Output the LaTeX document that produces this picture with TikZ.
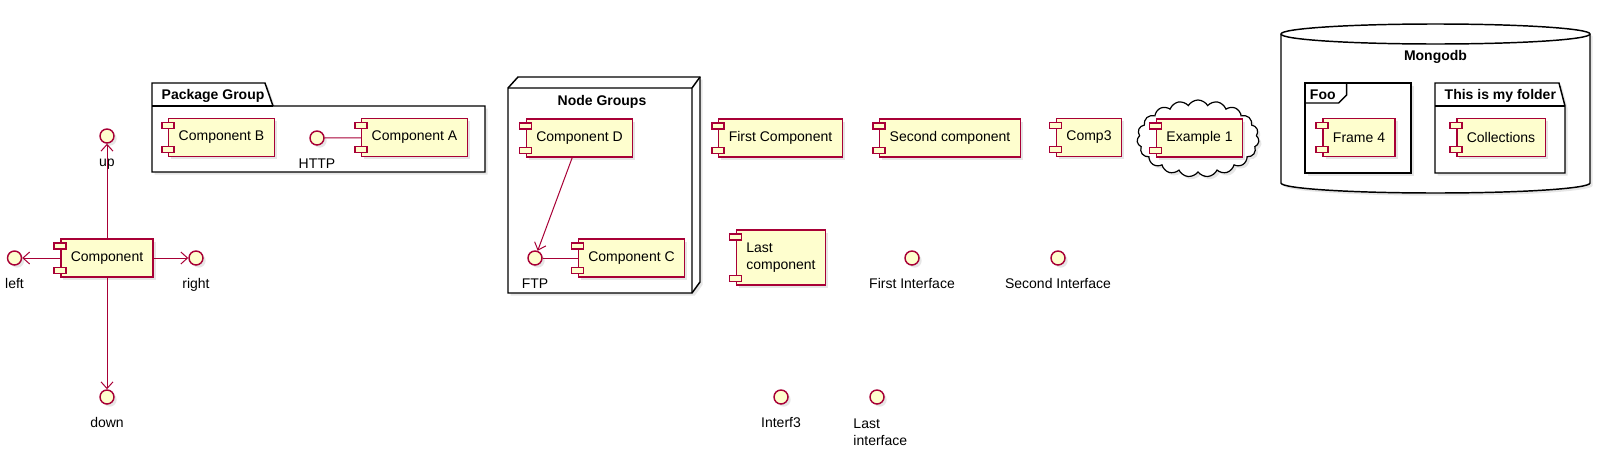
\documentclass[tikz,border=0pt]{standalone}
\usepackage{fontspec}
\setmainfont{Liberation Sans}
\usetikzlibrary{calc,arrows.meta,shapes.symbols,shadows}
\definecolor{umlfill}{HTML}{FEFECE}
\definecolor{umlred}{HTML}{A80036}

\tikzset{
  every node/.style={font=\fontsize{10.5}{12.75}\selectfont},
  softshadow/.style={drop shadow={opacity=0.2,shadow xshift=2pt,shadow yshift=-2pt}},
  comp/.style={draw=umlred,fill=umlfill,line width=1.1pt,minimum height=28.5pt,
    inner xsep=7.5pt,softshadow},
  plug/.style={draw=umlred,fill=umlfill,line width=1.1pt},
  iface/.style={circle,draw=umlred,fill=umlfill,line width=1.1pt,minimum size=10.5pt,
    inner sep=0pt,softshadow},
  lbl/.style={anchor=base,label distance=17.4pt},
  lbltwo/.style={anchor=north,align=left,inner sep=0pt,label distance=10.7pt,xshift=2.5pt},
  grp/.style={draw=black,fill=white,line width=1.1pt},
  edge/.style={draw=black,line width=1.1pt},
  title/.style={font=\fontsize{10.5}{12.75}\selectfont\bfseries},
  link/.style={draw=umlred,line width=0.75pt},
  arr/.style={link,-{Straight Barb[length=5pt,width=9pt]}},
}

\begin{document}
\begin{tikzpicture}[x=0.75pt,y=-0.75pt]
  \useasboundingbox (0,0) rectangle (1600,457);

  % package, node, database, frame, folder, cloud
  \draw[grp,softshadow] (152,83) -- (265,83) -- (273,106) -- (485,106) -- (485,172) -- (152,172) -- cycle;
  \draw[edge] (152,106) -- (273,106);
  \node[title,anchor=base west] (pkgT) at (157,99) {Package Group};

  \draw[grp,softshadow] (508,88) -- (518,77) -- (700,77) -- (700,282) -- (692,293) -- (508,293) -- cycle;
  \draw[edge] (508,88) -- (692,88) -- (700,77) (692,88) -- (692,293);
  \node[title,anchor=base] (nodeT) at (602,105) {Node Groups};

  \draw[grp,softshadow] (1281,34) -- (1281,183)
    arc[start angle=180,end angle=0,x radius=154.5,y radius=10] -- (1590,34)
    arc[start angle=0,end angle=-180,x radius=154.5,y radius=10] -- cycle;
  \draw[edge] (1281,34) arc[start angle=180,end angle=0,x radius=154.5,y radius=10];
  \node[title,anchor=base] (dbT) at (1435.5,60) {Mongodb};

  \draw[grp,softshadow] (1305,83) -- (1411,83) -- (1411,173) -- (1305,173) -- cycle;
  \node[title,anchor=base west,inner xsep=2pt] (fooT) at (1307,99) {Foo};
  \draw[edge] (1305,103) -- ($(fooT.base east)+(0,4)$) -- ++(8,-8) -- ++(0,-12);

  \draw[grp,softshadow] (1435,83) -- (1559,83) -- (1565,106) -- (1565,173) -- (1435,173) -- cycle;
  \draw[edge] (1435,106) -- (1565,106);
  \node[title,anchor=base west] (dirT) at (1440,99) {This is my folder};

  \node[cloud,cloud puffs=19,cloud puff arc=120,cloud ignores aspect,draw,fill=white,
    line width=0.9pt,minimum width=91.5pt,minimum height=57.75pt,softshadow] (sky) at (1198,138.5) {};

  % components
  \node[comp] (cmp) at (107,258) {Component};
  \node[comp] (cmpB) at (221.5,137.5) {Component B};
  \node[comp] (cmpA) at (414.5,137.5) {Component A};
  \node[comp] (cmpD) at (579.5,138) {Component D};
  \node[comp] (cmpC) at (631.5,258) {Component C};
  \node[comp] (first) at (780.5,138) {First Component};
  \node[comp] (second) at (950,138) {Second component};
  \node[comp] (comp3) at (1089,137.5) {Comp3};
  \node[comp,align=left,minimum height=41.25pt] (last) at (781,257.5) {Last\\component};
  \node[comp] (ex1) at (1199.5,138) {Example 1};
  \node[comp] (frame4) at (1359,137.5) {Frame 4};
  \node[comp] (coll) at (1501,137.5) {Collections};

  \foreach \n in {cmp,cmpB,cmpA,cmpD,cmpC,first,second,comp3,last,ex1,frame4,coll}{
    \draw[plug] ($(\n.north west)+(-6,4.5)$) rectangle ++(12,6);
    \draw[plug] ($(\n.south west)+(-6,-10.5)$) rectangle ++(12,6);
  }

  % interfaces
  \node[iface,label={[lbl]below:up}] (up) at (107,136) {};
  \node[iface,label={[lbl]below:left}] (left) at (14.5,258) {};
  \node[iface,label={[lbl]below:right}] (right) at (196,258) {};
  \node[iface,label={[lbl]below:down}] (down) at (107,397) {};
  \node[iface,label={[lbl]below:HTTP}] (http) at (317,138) {};
  \node[iface,label={[lbl]below:FTP}] (ftp) at (535,258) {};
  \node[iface,label={[lbl]below:First Interface}] (firstI) at (912,258) {};
  \node[iface,label={[lbl]below:Second Interface}] (secondI) at (1058,258) {};
  \node[iface,label={[lbl]below:Interf3}] (interf3) at (781,397) {};
  \node[iface,label={[lbltwo]below:{Last\\interface}}] (lastI) at (877,397) {};

  % connectors
  \draw[arr] (cmp) -- (up);
  \draw[arr] (cmp) -- (left);
  \draw[arr] (cmp) -- (right);
  \draw[arr] (cmp) -- (down);
  \draw[link] (http) -- (cmpA);
  \draw[link] (ftp) -- (cmpC);
  \draw[arr] (cmpD) -- (ftp);

\end{tikzpicture}
\end{document}
